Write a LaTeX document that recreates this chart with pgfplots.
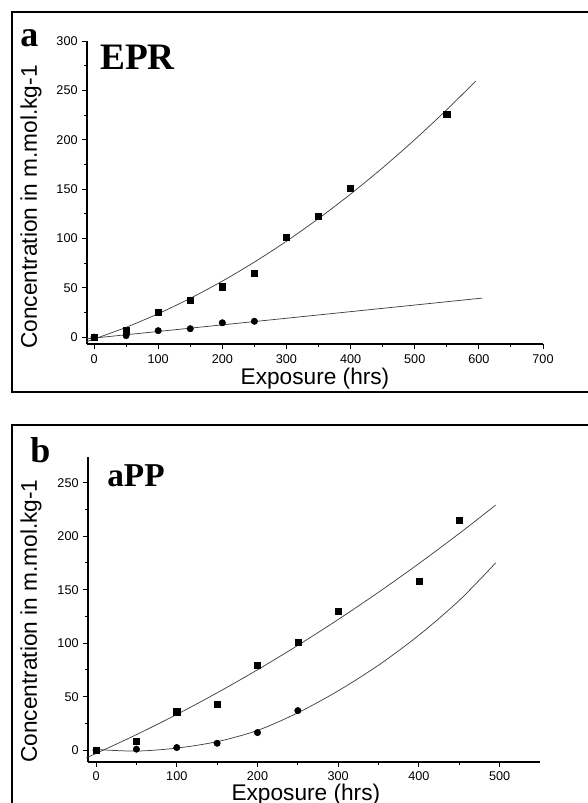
\documentclass[border=0pt]{standalone}
\usepackage{fontspec}
\setmainfont{Liberation Sans}
\newfontfamily\tnr{Liberation Serif}
\usepackage{pgfplots}
\pgfplotsset{compat=1.18}
\begin{document}
\begin{tikzpicture}
\useasboundingbox (0,0) rectangle (441pt,602.25pt);
\clip (0,0) rectangle (441pt,602.25pt);
\pgfplotsset{
 myaxis/.style={scale only axis, axis lines*=left, axis line style={line width=0.9pt},
   tick align=outside, major tick length=3.5pt, minor tick length=2pt,
   every tick/.style={black, line width=0.7pt},
   minor x tick num=1, minor y tick num=1,
   tick label style={font=\fontsize{9.5}{11}\selectfont},
   /pgf/number format/assume math mode=true,
   label style={font=\fontsize{17}{20}\selectfont, inner sep=0pt}, clip=false},
 sq/.style={only marks, mark=square*, mark size=2.3pt, black},
 ci/.style={only marks, mark=*, mark size=2.4pt, black},
 fitl/.style={no marks, smooth, black!75, line width=0.55pt},
}
% frames
\draw[line width=1.6pt] (450pt,593.25pt) -- (9pt,593.25pt) -- (9pt,308.25pt) -- (450pt,308.25pt);
\draw[line width=1.6pt] (450pt,283.5pt) -- (9pt,283.5pt) -- (9pt,-10pt);

\begin{axis}[myaxis, at={(65.25pt,344.25pt)}, anchor=south west, width=342pt, height=227.25pt,
  xmin=-11, xmax=700, ymin=-7, ymax=300, xtick={0,100,...,700}, ytick={0,50,...,300},
  xticklabel style={inner sep=0.5pt, yshift=-3.5pt},
  xlabel={Exposure (hrs)}, ylabel={Concentration in m.mol.kg-1},
  xlabel style={at={(axis description cs:0.5,-0.113)}, anchor=center},
  ylabel style={at={(axis description cs:-0.123,0.452)}, anchor=center}]
\addplot[fitl] coordinates {(-12,-4.59) (0,-2) (50,9.91) (100,23.67) (150,39.27) (200,56.71) (250,75.99) (300,97.12) (350,120.10) (400,144.91) (450,171.57) (500,200.08) (550,230.42) (595,259.31)};
\addplot[fitl] coordinates {(-12,-1.8) (605,39.5)};
\addplot[sq] coordinates {(0,0) (50,7) (100,25) (150,37) (200,51) (250,65) (300,101) (350,122) (400,151) (550,226)};
\addplot[ci] coordinates {(0,0) (50,1.5) (100,6.5) (150,8.5) (200,14.5) (250,16)};
\end{axis}

\begin{axis}[myaxis, at={(66pt,30.75pt)}, anchor=south west, width=339pt, height=228.75pt,
  xmin=-10, xmax=550, ymin=-11, ymax=274, xtick={0,100,...,500}, ytick={0,50,...,250},
  xticklabel style={inner sep=0.5pt, yshift=-3pt},
  xlabel={Exposure (hrs)}, ylabel={Concentration in m.mol.kg-1},
  xlabel style={at={(axis description cs:0.482,-0.106)}, anchor=center},
  ylabel style={at={(axis description cs:-0.126,0.462)}, anchor=center}]
\addplot[fitl] coordinates {(-12,-7.0) (0,-3) (50,14.56) (100,33.44) (150,53.64) (200,75.16) (250,98.0) (300,122.16) (350,147.64) (400,174.44) (450,202.56) (495,229.0)};
\addplot[fitl] coordinates {(0,0.7) (50,-0.8) (100,2) (150,8) (200,18.5) (250,35) (300,55.5) (350,79.5) (400,107.5) (450,140) (495,175)};
\addplot[sq] coordinates {(0,0) (50,8) (100,36) (150,43) (200,79) (250,101) (300,130) (400,158) (450,215)};
\addplot[ci] coordinates {(0,0) (50,1) (100,2.5) (150,6.5) (200,16.5) (250,37)};
\end{axis}

\node[anchor=base west, inner sep=0, font=\fontsize{27}{30}\selectfont\tnr\bfseries] at (15pt,567pt) {a};
\node[anchor=base west, inner sep=0, font=\fontsize{28}{31}\selectfont\tnr\bfseries] at (75pt,549.75pt) {EPR};
\node[anchor=base west, inner sep=0, font=\fontsize{27}{30}\selectfont\tnr\bfseries] at (22.5pt,255pt) {b};
\node[anchor=base west, inner sep=0, font=\fontsize{25}{28}\selectfont\tnr\bfseries] at (80.25pt,237pt) {aPP};
\end{tikzpicture}
\end{document}
